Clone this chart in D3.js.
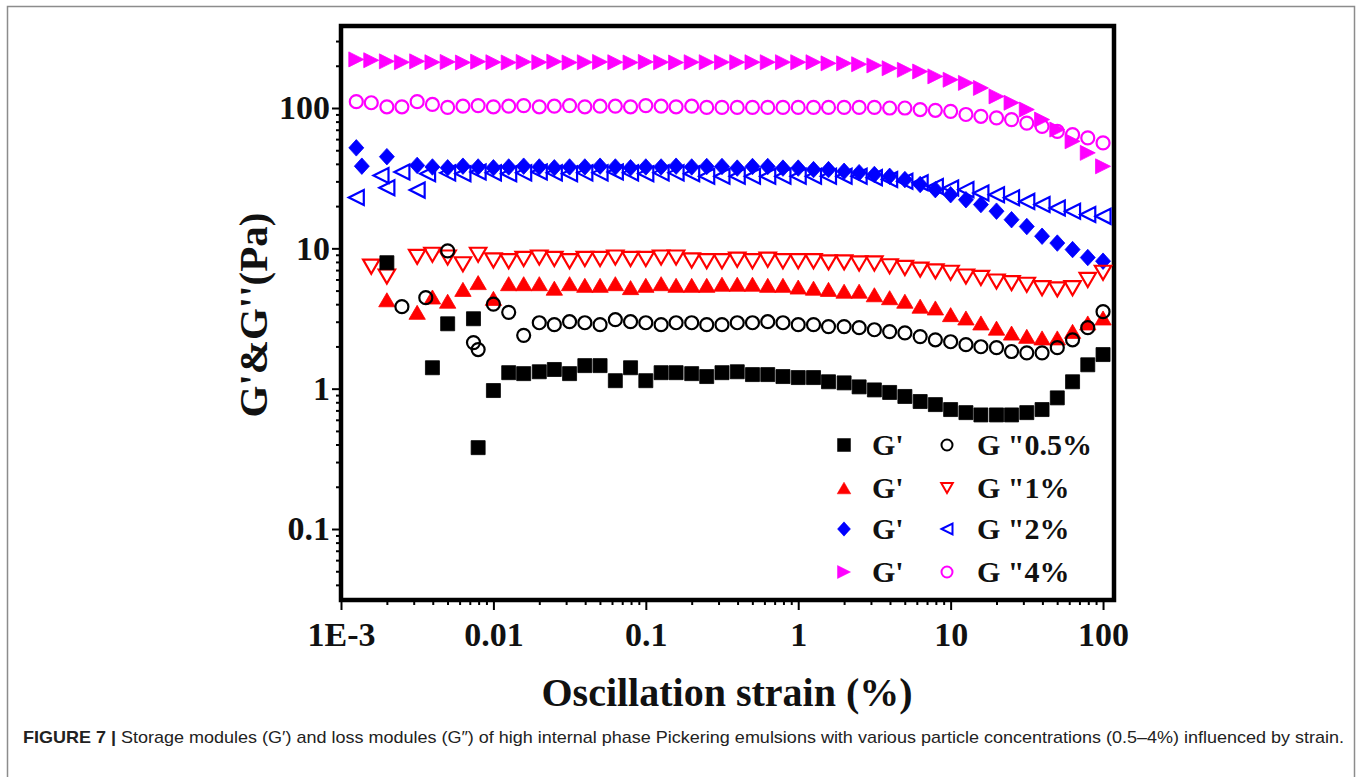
<!DOCTYPE html>
<html lang="en">
<head>
<meta charset="UTF-8">
<script src="https://d3js.org/d3.v7.min.js"></script>
<title>G' and G'' versus oscillation strain</title>
<style>
  body { margin: 0; background: #fff; overflow: hidden; }
  .serif { font-family: "Liberation Serif", "Times New Roman", serif; font-weight: bold; fill: #111; }
  .tick line { stroke: #000; stroke-width: 2; }
</style>
</head>
<body>
<script>
  // strain grid (%), 10 points per decade
  const strain = [
    0.00126, 0.00158, 0.002, 0.00251, 0.00316, 0.00398, 0.00501, 0.00631, 0.00794, 0.01,
    0.0126, 0.0158, 0.02, 0.0251, 0.0316, 0.0398, 0.0501, 0.0631, 0.0794, 0.1,
    0.126, 0.158, 0.2, 0.251, 0.316, 0.398, 0.501, 0.631, 0.794, 1,
    1.26, 1.58, 2, 2.51, 3.16, 3.98, 5.01, 6.31, 7.94, 10,
    12.6, 15.8, 20, 25.1, 31.6, 39.8, 50.1, 63.1, 79.4, 100
  ];

  // G' and G'' (Pa) for each particle concentration, null = no point
  const gp05 = [null, null, 7.9, null, null, 1.41, 2.9, null, 0.38, 0.97,
    1.30, 1.28, 1.32, 1.37, 1.28, 1.46, 1.46, 1.14, 1.41, 1.14,
    1.30, 1.30, 1.28, 1.22, 1.30, 1.32, 1.26, 1.26, 1.22, 1.20,
    1.20, 1.12, 1.10, 1.03, 0.98, 0.94, 0.88, 0.81, 0.77, 0.71,
    0.675, 0.65, 0.65, 0.65, 0.675, 0.71, 0.86, 1.12, 1.48, 1.75];
  const gpp05 = [null, null, null, 3.84, null, null, 9.6, null, 1.9, 4.0,
    3.5, 2.4, 2.95, 2.86, 3.0, 2.95, 2.86, 3.1, 3.0, 2.95,
    2.86, 2.95, 2.95, 2.86, 2.86, 2.95, 2.95, 3.0, 2.95, 2.86,
    2.86, 2.77, 2.77, 2.72, 2.63, 2.55, 2.5, 2.35, 2.23, 2.16,
    2.06, 1.99, 1.96, 1.84, 1.80, 1.80, 1.96, 2.23, 2.72, 3.54];
  const gp1 = [null, null, 4.3, null, 3.5, 4.5, 4.2, 5.1, 5.7, 4.4,
    5.6, 5.6, 5.6, 5.2, 5.6, 5.45, 5.45, 5.6, 5.25, 5.45,
    5.6, 5.45, 5.45, 5.45, 5.55, 5.55, 5.55, 5.45, 5.45, 5.3,
    5.2, 5.1, 4.95, 4.95, 4.67, 4.45, 4.2, 3.87, 3.76, 3.37,
    3.19, 2.94, 2.7, 2.49, 2.36, 2.3, 2.3, 2.56, 2.94, 3.19];
  const gpp1 = [null, 7.4, 6.3, null, 8.7, 9.0, 8.6, 7.7, 9.0, 8.2,
    8.1, 8.4, 8.6, 8.4, 8.1, 8.4, 8.4, 8.6, 8.4, 8.4,
    8.6, 8.6, 8.2, 8.1, 8.1, 8.3, 8.1, 8.3, 8.1, 8.1,
    8.1, 7.95, 7.95, 7.8, 7.8, 7.45, 7.25, 7.05, 6.85, 6.7,
    6.3, 6.15, 5.8, 5.65, 5.5, 5.2, 5.1, 5.2, 5.95, 6.7];
  const gp2 = [52, null, 45, null, 39, 38, 37.5, 38.5, 38, 37.5,
    38, 38.5, 38, 37.5, 38, 38, 38.5, 38, 37.5, 38,
    38, 38.5, 38, 38.3, 38.3, 37.3, 38.3, 38.3, 37.3, 37.3,
    36.4, 36.4, 35.4, 34.6, 33.6, 32.6, 30.9, 28.5, 26.2, 24.1,
    22.2, 20.5, 18.4, 16.0, 14.3, 12.2, 10.9, 9.8, 8.6, 8.1];
  const gpp2 = [23, null, 27, 35, 26, null, 34.5, 34, 35, 34.5,
    34, 34.5, 35, 34.5, 34, 34.5, 34.5, 35, 34.5, 34,
    34.5, 34.5, 34, 32.6, 32.6, 32.6, 32.6, 32.6, 32.6, 32.6,
    32.6, 32.6, 32.6, 32.6, 31.9, 30.9, 30.1, 29.3, 27.6, 26.9,
    26.2, 24.8, 24.1, 22.9, 21.6, 20.5, 19.4, 18.4, 17.4, 16.9];
  const gp4 = [222, 219, 215, 212, 215, 212, 213, 211, 214, 212,
    211, 213, 212, 214, 211, 212, 213, 212, 211, 213,
    212, 211, 212, 212, 212, 212, 212, 212, 212, 212,
    212, 208, 208, 205, 201, 192, 187, 182, 168, 159,
    151, 139, 121, 109, 97.5, 82.7, 70.2, 57.9, 47.9, 38.4];
  const gpp4 = [111, 109, 102, 102, 111, 106, 101, 103, 104, 102,
    103, 104, 102, 103, 104, 102, 103, 103, 102, 104,
    103, 102, 103, 101, 101, 101, 101, 101, 101, 101,
    101, 101, 101, 101, 101, 100, 100, 97.5, 96.3, 94.7,
    89.9, 87.3, 85, 82.7, 78.1, 73.9, 68.1, 64.6, 61.2, 56.4];

  // points that fall off the strain grid
  const extraPoints = [
    { series: "gp05", strain: 0.0074, value: 3.15 },
    { series: "gpp05", strain: 0.0036, value: 4.45 },
    { series: "gpp05", strain: 0.0074, value: 2.13 },
    { series: "gp2", strain: 0.00137, value: 38.5 },
    { series: "gpp2", strain: 0.00183, value: 33 },
    { series: "gpp2", strain: 0.0037, value: 34 }
  ];

  const xTicks = [0.001, 0.01, 0.1, 1, 10, 100];
  const xTickLabels = ["1E-3", "0.01", "0.1", "1", "10", "100"];
  const yTicks = [0.1, 1, 10, 100];
  const yTickLabels = ["0.1", "1", "10", "100"];
  const legendLabels = ["0.5%", "1%", "2%", "4%"];

  // drawn back to front: 4% first, 0.5% last
  const series = [
    { id: "gpp4", values: gpp4, color: "#ff00ff", shape: "circle", filled: false },
    { id: "gp4", values: gp4, color: "#ff00ff", shape: "right", filled: true },
    { id: "gpp2", values: gpp2, color: "#0000ff", shape: "left", filled: false },
    { id: "gp2", values: gp2, color: "#0000ff", shape: "diamond", filled: true },
    { id: "gpp1", values: gpp1, color: "#ff0000", shape: "down", filled: false },
    { id: "gp1", values: gp1, color: "#ff0000", shape: "up", filled: true },
    { id: "gpp05", values: gpp05, color: "#000000", shape: "circle", filled: false },
    { id: "gp05", values: gp05, color: "#000000", shape: "square", filled: true }
  ];

  const width = 1357, height = 777;
  const plotLeft = 341, plotRight = 1114, plotTop = 26, plotBottom = 600;

  const svg = d3.select("body").append("svg")
    .attr("width", width)
    .attr("height", height);

  // page border
  svg.append("rect")
    .attr("x", 7.5).attr("y", 6.5)
    .attr("width", 1347).attr("height", 820)
    .attr("fill", "none").attr("stroke", "#8c8c8c").attr("stroke-width", 1.5);

  const x = d3.scaleLog().domain([1e-3, 118]).range([plotLeft, plotRight]);
  const y = d3.scaleLog().domain([0.0312, 384]).range([plotBottom, plotTop]);

  function minorTicks(scale) {
    const [a, b] = scale.domain();
    const out = [];
    for (let e = Math.floor(Math.log10(a)); e <= Math.ceil(Math.log10(b)); e++) {
      for (let m = 2; m <= 9; m++) {
        const v = m * Math.pow(10, e);
        if (v >= a && v <= b) out.push(v);
      }
    }
    return out;
  }

  // x axis
  svg.append("g")
    .attr("transform", `translate(0,${plotBottom})`)
    .call(d3.axisBottom(x).tickValues(minorTicks(x)).tickSize(5).tickFormat(""))
    .call(g => g.select(".domain").remove());
  svg.append("g")
    .attr("transform", `translate(0,${plotBottom})`)
    .call(d3.axisBottom(x).tickValues(xTicks).tickSize(10).tickPadding(12)
      .tickFormat(d => xTickLabels[xTicks.indexOf(d)]))
    .call(g => g.select(".domain").remove())
    .call(g => g.selectAll("text").attr("class", "serif").style("font-size", "34px"));

  // y axis
  svg.append("g")
    .attr("transform", `translate(${plotLeft},0)`)
    .call(d3.axisLeft(y).tickValues(minorTicks(y)).tickSize(5).tickFormat(""))
    .call(g => g.select(".domain").remove());
  svg.append("g")
    .attr("transform", `translate(${plotLeft},0)`)
    .call(d3.axisLeft(y).tickValues(yTicks).tickSize(9).tickPadding(2)
      .tickFormat(d => yTickLabels[yTicks.indexOf(d)]))
    .call(g => g.select(".domain").remove())
    .call(g => g.selectAll("text").attr("class", "serif").style("font-size", "34px"));

  // frame
  svg.append("rect")
    .attr("x", plotLeft).attr("y", plotTop)
    .attr("width", plotRight - plotLeft).attr("height", plotBottom - plotTop)
    .attr("fill", "none").attr("stroke", "#000").attr("stroke-width", 4.5);

  // marker shapes, centred on their bounding box
  function markerPath(shape, s) {
    switch (shape) {
      case "square": return `M${-s},${-s}H${s}V${s}H${-s}Z`;
      case "up": return `M0,${-s * 0.9}L${s * 1.05},${s * 0.9}L${-s * 1.05},${s * 0.9}Z`;
      case "down": return `M0,${s * 0.9}L${s * 1.05},${-s * 0.9}L${-s * 1.05},${-s * 0.9}Z`;
      case "right": return `M${s},0L${-s},${-s}L${-s},${s}Z`;
      case "left": return `M${-s},0L${s},${-s}L${s},${s}Z`;
      case "diamond": return `M0,${-s * 1.1}L${s},0L0,${s * 1.1}L${-s},0Z`;
      default: return d3.arc()({ innerRadius: 0, outerRadius: s, startAngle: 0, endAngle: 2 * Math.PI });
    }
  }

  function markerSize(shape) {
    if (shape === "circle") return 6.5;
    if (shape === "square") return 7;
    if (shape === "up" || shape === "down") return 7.8;
    return 7.5;
  }

  const plot = svg.append("g");
  series.forEach(s => {
    const pts = s.values
      .map((v, i) => ({ x: strain[i], v }))
      .filter(p => p.v != null)
      .concat(extraPoints.filter(p => p.series === s.id).map(p => ({ x: p.strain, v: p.value })));
    plot.append("g")
      .selectAll("path")
      .data(pts)
      .enter().append("path")
      .attr("transform", d => `translate(${x(d.x)},${y(d.v)})`)
      .attr("d", markerPath(s.shape, markerSize(s.shape)))
      .attr("fill", s.filled ? s.color : "none")
      .attr("stroke", s.color)
      .attr("stroke-width", s.filled ? 0.8 : 2.2);
  });

  // legend
  const legendRows = [445, 488, 529, 572];
  const legendG = ["gp05", "gp1", "gp2", "gp4"];
  const legendGG = ["gpp05", "gpp1", "gpp2", "gpp4"];
  const legend = svg.append("g");
  legendLabels.forEach((lab, i) => {
    const gpS = series.find(s => s.id === legendG[i]);
    const gppS = series.find(s => s.id === legendGG[i]);
    const yy = legendRows[i];
    legend.append("path")
      .attr("transform", `translate(844,${yy})`)
      .attr("d", markerPath(gpS.shape, 6.5))
      .attr("fill", gpS.color).attr("stroke", gpS.color).attr("stroke-width", 0.5);
    legend.append("text").attr("class", "serif")
      .attr("x", 872).attr("y", yy + 10)
      .style("font-size", "30px").text("G'");
    legend.append("path")
      .attr("transform", `translate(947,${yy})`)
      .attr("d", markerPath(gppS.shape, 5.5))
      .attr("fill", "none").attr("stroke", gppS.color).attr("stroke-width", 2);
    legend.append("text").attr("class", "serif")
      .attr("x", 977).attr("y", yy + 10)
      .style("font-size", "30px").text('G "' + lab);
  });

  // axis titles
  svg.append("text").attr("class", "serif")
    .attr("x", 727).attr("y", 706)
    .attr("text-anchor", "middle")
    .style("font-size", "40px")
    .text("Oscillation strain (%)");
  svg.append("text").attr("class", "serif")
    .attr("transform", "translate(267,315) rotate(-90)")
    .attr("text-anchor", "middle")
    .style("font-size", "41px")
    .text("G'&G''(Pa)");

  // caption
  const cap = svg.append("text")
    .attr("x", 23).attr("y", 743)
    .attr("textLength", 1321).attr("lengthAdjust", "spacingAndGlyphs")
    .style("font-family", "'Liberation Sans', Arial, sans-serif")
    .style("font-size", "17px").style("fill", "#222");
  cap.append("tspan").style("font-weight", "bold").text("FIGURE 7 | ");
  cap.append("tspan").text("Storage modules (G′) and loss modules (G″) of high internal phase Pickering emulsions with various particle concentrations (0.5–4%) influenced by strain.");
</script>
</body>
</html>
